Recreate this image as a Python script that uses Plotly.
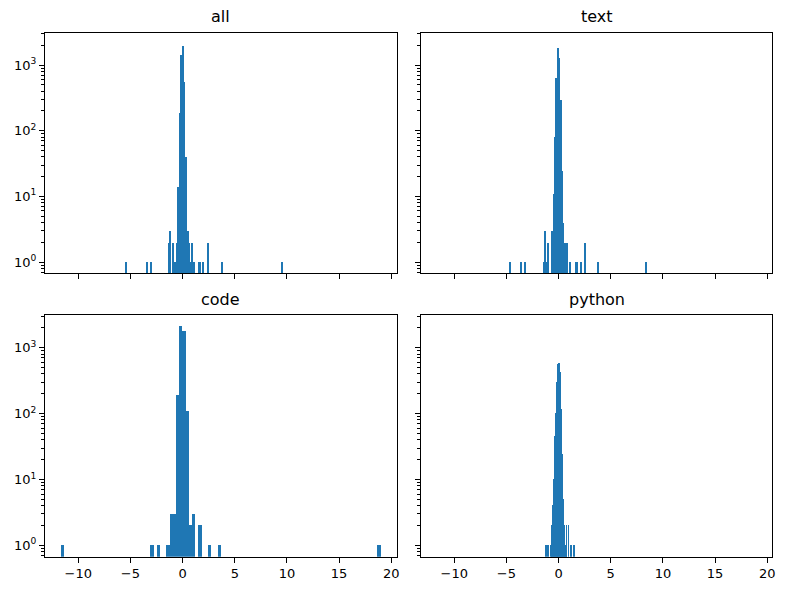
import plotly.graph_objects as go

# each histogram: left edge of first bin, bin width, non-empty bin indices and their counts
all_lo, all_w = -5.47, 0.1508
all_bins = [0, 13, 16, 27, 28, 30, 31, 32, 33, 34, 35, 36, 37, 38, 39, 40, 41, 42, 43, 46, 47, 49, 52, 61, 99]
all_counts = [1, 1, 1, 2, 3, 2, 1, 2, 14, 186, 1436, 1960, 548, 40, 3, 2, 1, 2, 1, 1, 1, 1, 2, 1, 1]

text_lo, text_w = -4.75, 0.1317
text_bins = [0, 8, 11, 25, 26, 27, 28, 31, 32, 33, 34, 35, 36, 37, 38, 39, 40, 41, 42, 44, 48, 49, 52, 55, 64, 99]
text_counts = [1, 1, 1, 1, 3, 1, 2, 3, 11, 80, 636, 1850, 1310, 300, 25, 4, 2, 2, 2, 1, 1, 1, 1, 2, 1, 1]

code_lo, code_w = -11.67, 0.3064
code_bins = [0, 28, 30, 33, 34, 35, 36, 37, 38, 39, 40, 41, 43, 46, 49, 99]
code_counts = [1, 1, 1, 1, 3, 3, 190, 2130, 1790, 109, 2, 3, 2, 1, 1, 1]

python_lo, python_w = -1.307, 0.0954
python_bins = [0, 2, 5, 6, 7, 8, 9, 10, 11, 12, 13, 14, 15, 16, 17, 18, 19, 20, 21, 23, 26, 29]
python_counts = [1, 1, 1, 2, 4, 10, 45, 100, 303, 565, 590, 430, 115, 24, 5, 2, 1, 1, 2, 2, 1, 1]

titles = ["all", "text", "code", "python"]
x_ticks = [-10, -5, 0, 5, 10, 15, 20]
y_ticks = [1, 10, 100, 1000]
y_ticktext = ["10<sup>0</sup>", "10<sup>1</sup>", "10<sup>2</sup>", "10<sup>3</sup>"]

hists = [
    (all_lo, all_w, all_bins, all_counts),
    (text_lo, text_w, text_bins, text_counts),
    (code_lo, code_w, code_bins, code_counts),
    (python_lo, python_w, python_bins, python_counts),
]

minor_y = [m * 10 ** e for e in range(-1, 4) for m in range(2, 10)]

# panel domains in pixels, then shifted for the page's 8px body margin
W, H, off = 788, 590, 8
xpx = [[45, 398], [422.4, 775.4]]
ypx = [[32.7, 273.3], [315.3, 556.7]]
xdom = [[(a - off) / W, (b - off) / W] for a, b in xpx]
ydom = [[1 - (b - off) / H, 1 - (a - off) / H] for a, b in ypx]

fig = go.Figure()
for i, (lo, w, bins, counts) in enumerate(hists):
    n = "" if i == 0 else str(i + 1)
    centers = [lo + (k + 0.5) * w for k in bins]
    fig.add_trace(go.Bar(x=centers, y=counts, width=w,
                         marker=dict(color="#1f77b4", line=dict(width=0)),
                         xaxis="x" + n, yaxis="y" + n, showlegend=False))

    row, col = i // 2, i % 2
    ax = dict(showline=True, mirror=True, linecolor="black", linewidth=1,
              ticks="outside", ticklen=5, tickcolor="black", showgrid=False,
              zeroline=False, tickfont=dict(family="DejaVu Sans", size=13, color="black"))
    fig.layout["xaxis" + n] = dict(ax, domain=xdom[col], anchor="y" + n,
                                   range=[-13.2, 20.5], tickvals=x_ticks,
                                   showticklabels=(row == 1))
    fig.layout["yaxis" + n] = dict(ax, domain=ydom[row], anchor="x" + n,
                                   type="log", range=[-0.172, 3.492],
                                   tickvals=y_ticks, ticktext=y_ticktext,
                                   showticklabels=(col == 0),
                                   minor=dict(tickvals=minor_y, ticks="outside",
                                              ticklen=3, tickcolor="black"))
    fig.add_annotation(text=titles[i], xref="paper", yref="paper",
                       x=sum(xdom[col]) / 2, y=ydom[row][1] + 0.008,
                       xanchor="center", yanchor="bottom", showarrow=False,
                       font=dict(family="DejaVu Sans", size=16, color="black"))

fig.update_layout(width=W, height=H, margin=dict(l=0, r=0, t=0, b=0),
                  plot_bgcolor="white", paper_bgcolor="white", bargap=0)

fig.write_html("out.html")
